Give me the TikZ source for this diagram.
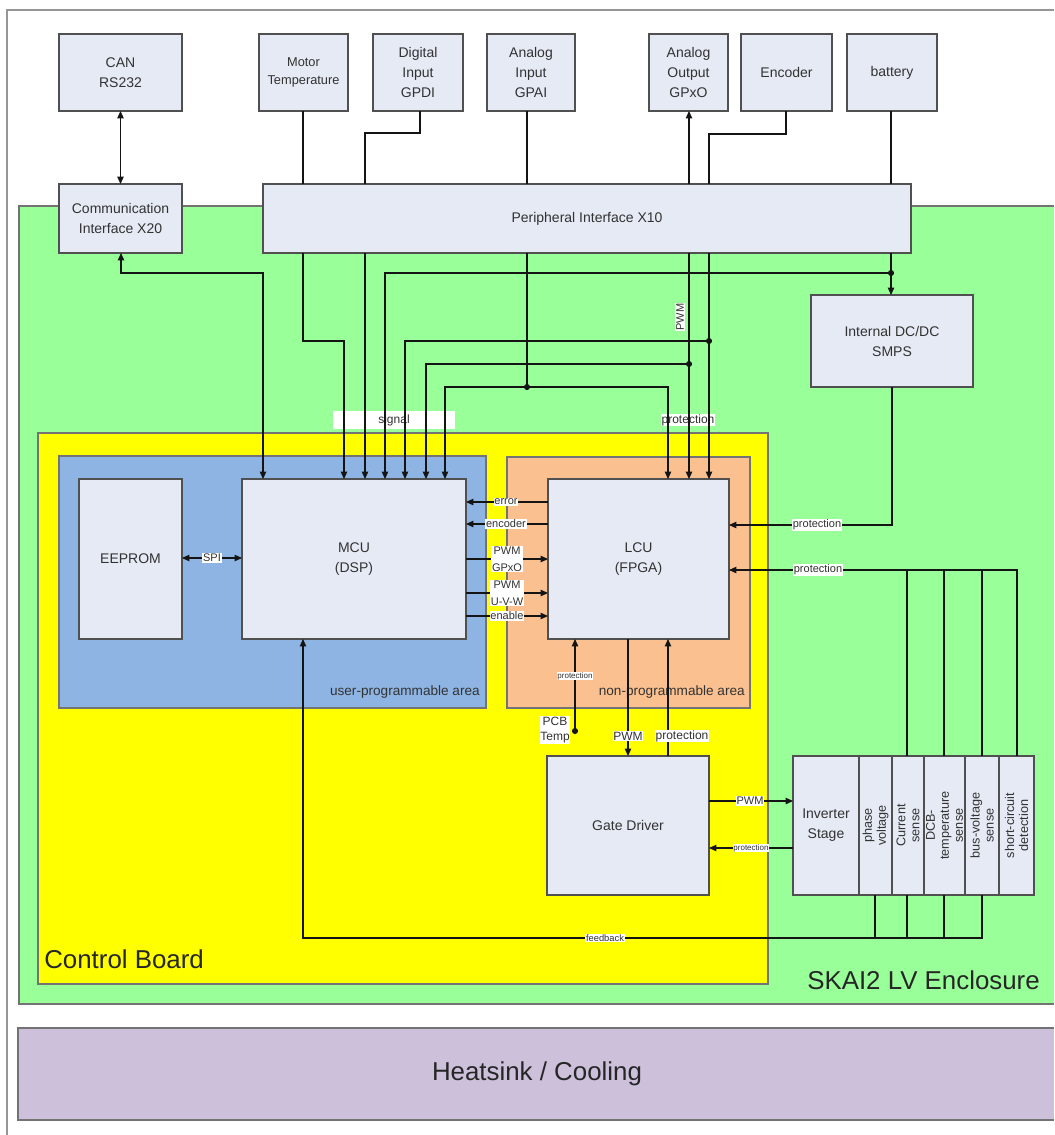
\documentclass[tikz,border=0pt]{standalone}
\usepackage{fontspec}
\setmainfont{Liberation Sans}
\usetikzlibrary{arrows.meta}
\definecolor{encgreen}{RGB}{153,255,153}
\definecolor{cbyellow}{RGB}{255,255,0}
\definecolor{upblue}{RGB}{141,180,226}
\definecolor{nporange}{RGB}{250,192,144}
\definecolor{boxfill}{RGB}{229,234,245}
\definecolor{heatfill}{RGB}{204,192,218}
\definecolor{bord}{RGB}{80,80,80}
\definecolor{wirec}{RGB}{20,20,20}
\definecolor{txt}{RGB}{50,50,50}
\definecolor{framec}{RGB}{150,150,150}
\newcommand\BX[7][]{\node[box,minimum width={(#5-#3)*0.75pt},minimum height={(#6-#4)*0.75pt},#1] (#2) at ({(#3+#5)/2},{(#4+#6)/2}) {#7};}
\begin{document}
\begin{tikzpicture}[x=0.75pt,y=-0.75pt,
  box/.style={draw=bord,fill=boxfill,line width=1pt,inner sep=0pt,outer sep=0pt,align=center,font=\fontsize{10.5}{15}\selectfont,text=txt},
  region/.style={draw=bord!80,line width=1pt},
  lbl/.style={fill=white,inner sep=0.6pt,font=\fontsize{8.25}{12.5}\selectfont,align=center,text=txt},
  tinylbl/.style={fill=white,inner sep=0.5pt,font=\fontsize{6}{7}\selectfont,text=txt},
  collbl/.style={rotate=90,align=center,font=\fontsize{9.5}{10.5}\selectfont,text=txt,inner sep=0pt},
  big/.style={font=\fontsize{19.4}{21}\selectfont,text=black!85,inner sep=0pt},
  wire/.style={line width=0.8pt,draw=wirec},
  arr/.style={wire,-{Triangle[length=5.5pt,width=4.8pt]}},
  arrb/.style={wire,{Triangle[length=5.5pt,width=4.8pt]}-{Triangle[length=5.5pt,width=4.8pt]}},
]
\useasboundingbox (0,0) rectangle (1054,1135);
\fill[white] (0,0) rectangle (1054,1135);
% frame
\draw[framec,line width=1pt] (1054,10) -- (7,10) -- (7,1135);
% enclosure
\fill[encgreen] (19,206) rectangle (1054,1004);
\draw[region] (1054,206) -- (19,206) -- (19,1004) -- (1054,1004);
% heatsink
\fill[heatfill] (18,1028) rectangle (1054,1120);
\draw[region] (1054,1028) -- (18,1028) -- (18,1120) -- (1054,1120);
\node[big] (heat) at (537,1074) {Heatsink / Cooling};
% control board
\draw[region,fill=cbyellow] (38,433) rectangle (768,984);
\draw[region,fill=upblue] (59,456) rectangle (486,708);
\draw[region,fill=nporange] (507,457) rectangle (750,708);
\node[big,anchor=west] (cbl) at (44,959) {Control Board};
\node[big,anchor=east] (encl) at (1040,980) {SKAI2 LV Enclosure};
\node[anchor=east,font=\fontsize{10.2}{12}\selectfont,text=black!80,inner sep=0pt] (upa) at (480,692) {user-programmable area};
\node[anchor=east,font=\fontsize{10.2}{12}\selectfont,text=black!80,inner sep=0pt] (npa) at (745,692) {non-programmable area};
% top boxes
\BX{can}{59}{34}{182}{111}{CAN\\RS232}
\BX[font=\fontsize{9.6}{13.5}\selectfont]{mot}{259}{34}{348}{111}{Motor\\Temperature}
\BX{dig}{373}{34}{463}{111}{Digital\\Input\\GPDI}
\BX{ai}{487}{34}{575}{111}{Analog\\Input\\GPAI}
\BX{ao}{649}{34}{728}{111}{Analog\\Output\\GPxO}
\BX{enc}{741}{34}{832}{111}{Encoder}
\BX{bat}{847}{34}{937}{111}{battery}
\BX{comm}{59}{184}{182}{253}{Communication\\Interface X20}
\BX{per}{263}{184}{911}{253}{Peripheral Interface X10}
\BX{dcdc}{811}{295}{973}{387}{Internal DC/DC\\SMPS}
\BX{eep}{79}{479}{182}{639}{EEPROM}
\BX{mcu}{242}{479}{466}{639}{MCU\\(DSP)}
\BX{lcu}{548}{479}{729}{639}{LCU\\(FPGA)}
\BX{gd}{547}{756}{709}{895}{Gate Driver}
\BX{inv}{793}{756}{859}{895}{Inverter\\Stage}
\BX{c1}{859}{756}{892}{895}{}
\BX{c2}{892}{756}{924}{895}{}
\BX{c3}{924}{756}{965}{895}{}
\BX{c4}{965}{756}{999}{895}{}
\BX{c5}{999}{756}{1034}{895}{}
\node[collbl] (t1) at (c1.center) {phase\\voltage};
\node[collbl] (t2) at (c2.center) {Current\\sense};
\node[collbl] (t3) at (c3.center) {DCB-\\temperature\\sense};
\node[collbl] (t4) at (c4.center) {bus-voltage\\sense};
\node[collbl] (t5) at (c5.center) {short-circuit\\detection};
% labels under wires
\node[lbl,minimum width=91.5pt,minimum height=13.5pt,font=\fontsize{9}{11}\selectfont] (sig) at (394,420) {signal};
\node[lbl,font=\fontsize{9}{11}\selectfont] (prot1) at (688,420) {protection};
% junctions
\coordinate (jbat) at (891,273);
\coordinate (jenc) at (709,341);
\coordinate (jao) at (689,364);
\coordinate (jai) at (527,387);
\coordinate (pcb) at (575,731);
% top wires
\draw[arrb] (can.south) -- (comm.north);
\draw[wire] (303,0 |- mot.south) -- (303,0 |- per.north);
\draw[wire] (420,0 |- dig.south) -- (420,133) -- (365,133) -- (365,0 |- per.north);
\draw[wire] (527,0 |- ai.south) -- (527,0 |- per.north);
\draw[arr] (689,0 |- per.north) -- (689,0 |- ao.south);
\draw[wire] (786,0 |- enc.south) -- (786,134) -- (709,134) -- (709,0 |- per.north);
\draw[wire] (891,0 |- bat.south) -- (891,0 |- per.north);
% wires below peripheral
\draw[arrb] (121,0 |- comm.south) -- (121,273) -- (263,273) -- (263,0 |- mcu.north);
\draw[arr] (303,0 |- per.south) -- (303,341) -- (344,341) -- (344,0 |- mcu.north);
\draw[arr] (365,0 |- per.south) -- (365,0 |- mcu.north);
\draw[arr] (891,0 |- per.south) -- (891,0 |- dcdc.north);
\draw[arr] (jbat) -- (385,273) -- (385,0 |- mcu.north);
\draw[arr] (709,0 |- per.south) -- (709,0 |- lcu.north);
\draw[arr] (jenc) -- (405,341) -- (405,0 |- mcu.north);
\draw[arr] (689,0 |- per.south) -- (689,0 |- lcu.north);
\draw[arr] (jao) -- (426,364) -- (426,0 |- mcu.north);
\draw[wire] (527,0 |- per.south) -- (jai);
\draw[arr] (jai) -- (445,387) -- (445,0 |- mcu.north);
\draw[arr] (jai) -- (668,387) -- (668,0 |- lcu.north);
\foreach \j in {jbat,jenc,jao,jai} \fill[wirec] (\j) circle (2.3pt);
\node[lbl,rotate=90] (pwmv) at (680,317) {PWM};
% MCU <-> LCU
\draw[arr] (lcu.west |- 0,502) -- (mcu.east |- 0,502);
\draw[arr] (lcu.west |- 0,524) -- (mcu.east |- 0,524);
\draw[arr] (mcu.east |- 0,559) -- (lcu.west |- 0,559);
\draw[arr] (mcu.east |- 0,593) -- (lcu.west |- 0,593);
\draw[arr] (mcu.east |- 0,616) -- (lcu.west |- 0,616);
\node[lbl] (lerr) at (506,502) {error};
\node[lbl] (lenc) at (506,524) {encoder};
\node[lbl] (lpg) at (507,559) {PWM\\GPxO};
\node[lbl] (lpu) at (507,593) {PWM\\U-V-W};
\node[lbl] (len) at (507,616) {enable};
% EEPROM <-> MCU
\draw[arrb] (eep.east |- 0,558) -- (mcu.west |- 0,558);
\node[lbl] (lspi) at (212,558) {SPI};
% protection into LCU right
\draw[arr] (892,0 |- dcdc.south) -- (892,525) -- (lcu.east |- 0,525);
\node[lbl] (lp2) at (817,525) {protection};
\draw[arr] (1017,0 |- c5.north) -- (1017,570) -- (lcu.east |- 0,570);
\foreach \xx in {907,944,982} \draw[wire] (\xx,570) -- (\xx,0 |- c2.north);
\node[lbl] (lp3) at (818,570) {protection};
% LCU bottom
\draw[arr] (pcb) -- (575,0 |- lcu.south);
\fill[wirec] (pcb) circle (2.3pt);
\node[tinylbl] (lp4) at (575,676) {protection};
\node[lbl,font=\fontsize{9}{11}\selectfont] (lpcb) at (555,730) {PCB\\Temp};
\draw[arr] (628,0 |- lcu.south) -- (628,0 |- gd.north);
\draw[arr] (668,0 |- gd.north) -- (668,0 |- lcu.south);
\node[lbl,font=\fontsize{9}{11}\selectfont] (lpwm2) at (628,736) {PWM};
\node[lbl,font=\fontsize{9}{11}\selectfont] (lp5) at (682,736) {protection};
% gate driver <-> inverter
\draw[arr] (gd.east |- 0,801) -- (inv.west |- 0,801);
\node[lbl] (lpwm3) at (750,801) {PWM};
\draw[arr] (inv.west |- 0,848) -- (gd.east |- 0,848);
\node[tinylbl] (lp6) at (751,848) {protection};
% feedback
\foreach \xx in {875,907,944} \draw[wire] (\xx,0 |- inv.south) -- (\xx,938);
\draw[arr] (982,0 |- c4.south) -- (982,938) -- (303,938) -- (303,0 |- mcu.south);
\node[tinylbl,font=\fontsize{7}{8}\selectfont] (lfb) at (605,938) {feedback};
\end{tikzpicture}
\end{document}
